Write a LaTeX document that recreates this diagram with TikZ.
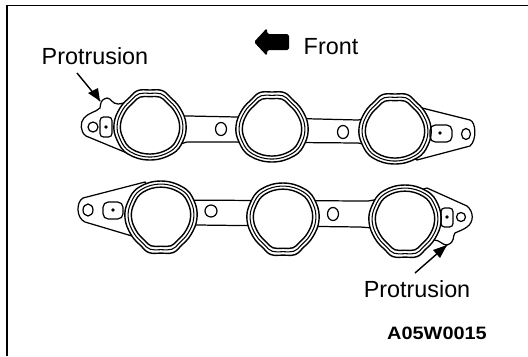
\documentclass[tikz,border=0pt]{standalone}
\usepackage{fontspec}
\setmainfont{Liberation Sans}
\tikzset{
  gasket/.style={line width=0.7pt},
  label/.style={font=\fontsize{13.3}{15}\selectfont, inner sep=0pt},
  pointer/.style={line width=0.8pt},
  port/.pic={
    \foreach \s/\w in {1/0.8,0.91/0.6,0.82/0.8}{
      \draw[line width=\w pt, fill=white, scale=\s] plot[smooth cycle, tension=0.7] coordinates {
        (0,-37) (12,-36.5) (20,-30) (30,-19) (36,-3) (33,14) (22,27) (0,33)
        (-22,27) (-33,13) (-36,-3) (-30,-19) (-20,-30) (-12,-36.5)};
    }
  }
}
\begin{document}
\begin{tikzpicture}[x=0.02cm,y=-0.02cm]
  \useasboundingbox (0,0) rectangle (528,356);
  \draw[line width=1pt] (7,356) -- (7,5.5) -- (528,5.5);
  % front arrow
  \fill[rounded corners=1] (254,42) -- (267,28) -- (267,34) -- (289,34) -- (289,50) -- (267,50) -- (267,56) -- cycle;
  \node[label] (front) at (331,47) {Front};
  % top gasket
  \draw[gasket, fill=white] (100,108) .. controls (101,103) and (100,100) .. (107,98)
    .. controls (111,98) and (112,104) .. (118,104) .. controls (122,104) and (125,102) .. (128,102)
    -- (140,115) -- (237,117) -- (358,120) -- (405,112) -- (418,107) -- (470,120)
    .. controls (476,122) and (477,140) .. (470,146) -- (417,160) -- (400,150) -- (358,143)
    -- (237,142) -- (187,142) -- (160,150) -- (127,153) -- (86,136)
    .. controls (80,132) and (80,122) .. (84,118) .. controls (88,113) and (96,112) .. (100,108) -- cycle;
  \pic at (150,127) {port};
  \pic at (272,129) {port};
  \pic at (395,131) {port};
  \draw[gasket] (93,127) circle[radius=5];
  \draw[gasket, rounded corners=2] (100,117) rectangle (112,137);
  \fill (106,127) circle[radius=1.8];
  \draw[gasket] (221,129) ellipse[x radius=5.5, y radius=6.5];
  \draw[gasket] (343,132) ellipse[x radius=5.5, y radius=6.5];
  \draw[gasket, rounded corners=3] (430,125) rectangle (452,142);
  \fill (440,133) circle[radius=1.8];
  \draw[gasket] (466,134) ellipse[x radius=4.5, y radius=5.5];
  % bottom gasket
  \draw[gasket, fill=white] (83,198) -- (145,182) -- (160,200) -- (368,201) -- (405,195) -- (427,188)
    -- (467,206) .. controls (474,212) and (474,222) .. (467,227) .. controls (463,230) and (459,231) .. (455,233)
    .. controls (452,236) and (456,242) .. (447,245) .. controls (442,245) and (440,240) .. (434,240)
    .. controls (428,240) and (424,244) .. (420,247) -- (400,230) -- (360,227)
    -- (197,225) -- (165,230) -- (132,236)
    -- (85,222) .. controls (76,218) and (76,202) .. (83,198) -- cycle;
  \pic[yscale=-1.03] at (161,215) {port};
  \pic[yscale=-1.03] at (283,217) {port};
  \pic[yscale=-1.03] at (405,219) {port};
  \draw[gasket] (88,210) ellipse[x radius=5, y radius=6];
  \draw[gasket, rounded corners=3] (103,202) rectangle (123,219);
  \fill (113,210) circle[radius=1.8];
  \draw[gasket] (211,211) circle[radius=6];
  \draw[gasket] (333,214) ellipse[x radius=5.5, y radius=6.5];
  \draw[gasket, rounded corners=2] (441,208) rectangle (453,227);
  \fill (447,217) circle[radius=1.8];
  \draw[gasket] (461,217) circle[radius=4.5];
  % labels and arrows
  \node[label] (protA) at (95,56) {Protrusion};
  \node[label] (protB) at (417,289) {Protrusion};
  \coordinate (tipA) at (100,101);
  \coordinate (tipB) at (447,245);
  \draw[pointer] (77,73) -- (tipA);
  \draw[pointer] (415,273) -- (tipB);
  \fill (tipA) -- (88,93) -- (98,88) -- cycle;
  \fill (tipB) -- (433,250) -- (440,258) -- cycle;
  \node[font=\bfseries\fontsize{10.2}{12}\selectfont, inner sep=0pt, xscale=1.11] (code) at (437,333) {A05W0015};
\end{tikzpicture}
\end{document}
